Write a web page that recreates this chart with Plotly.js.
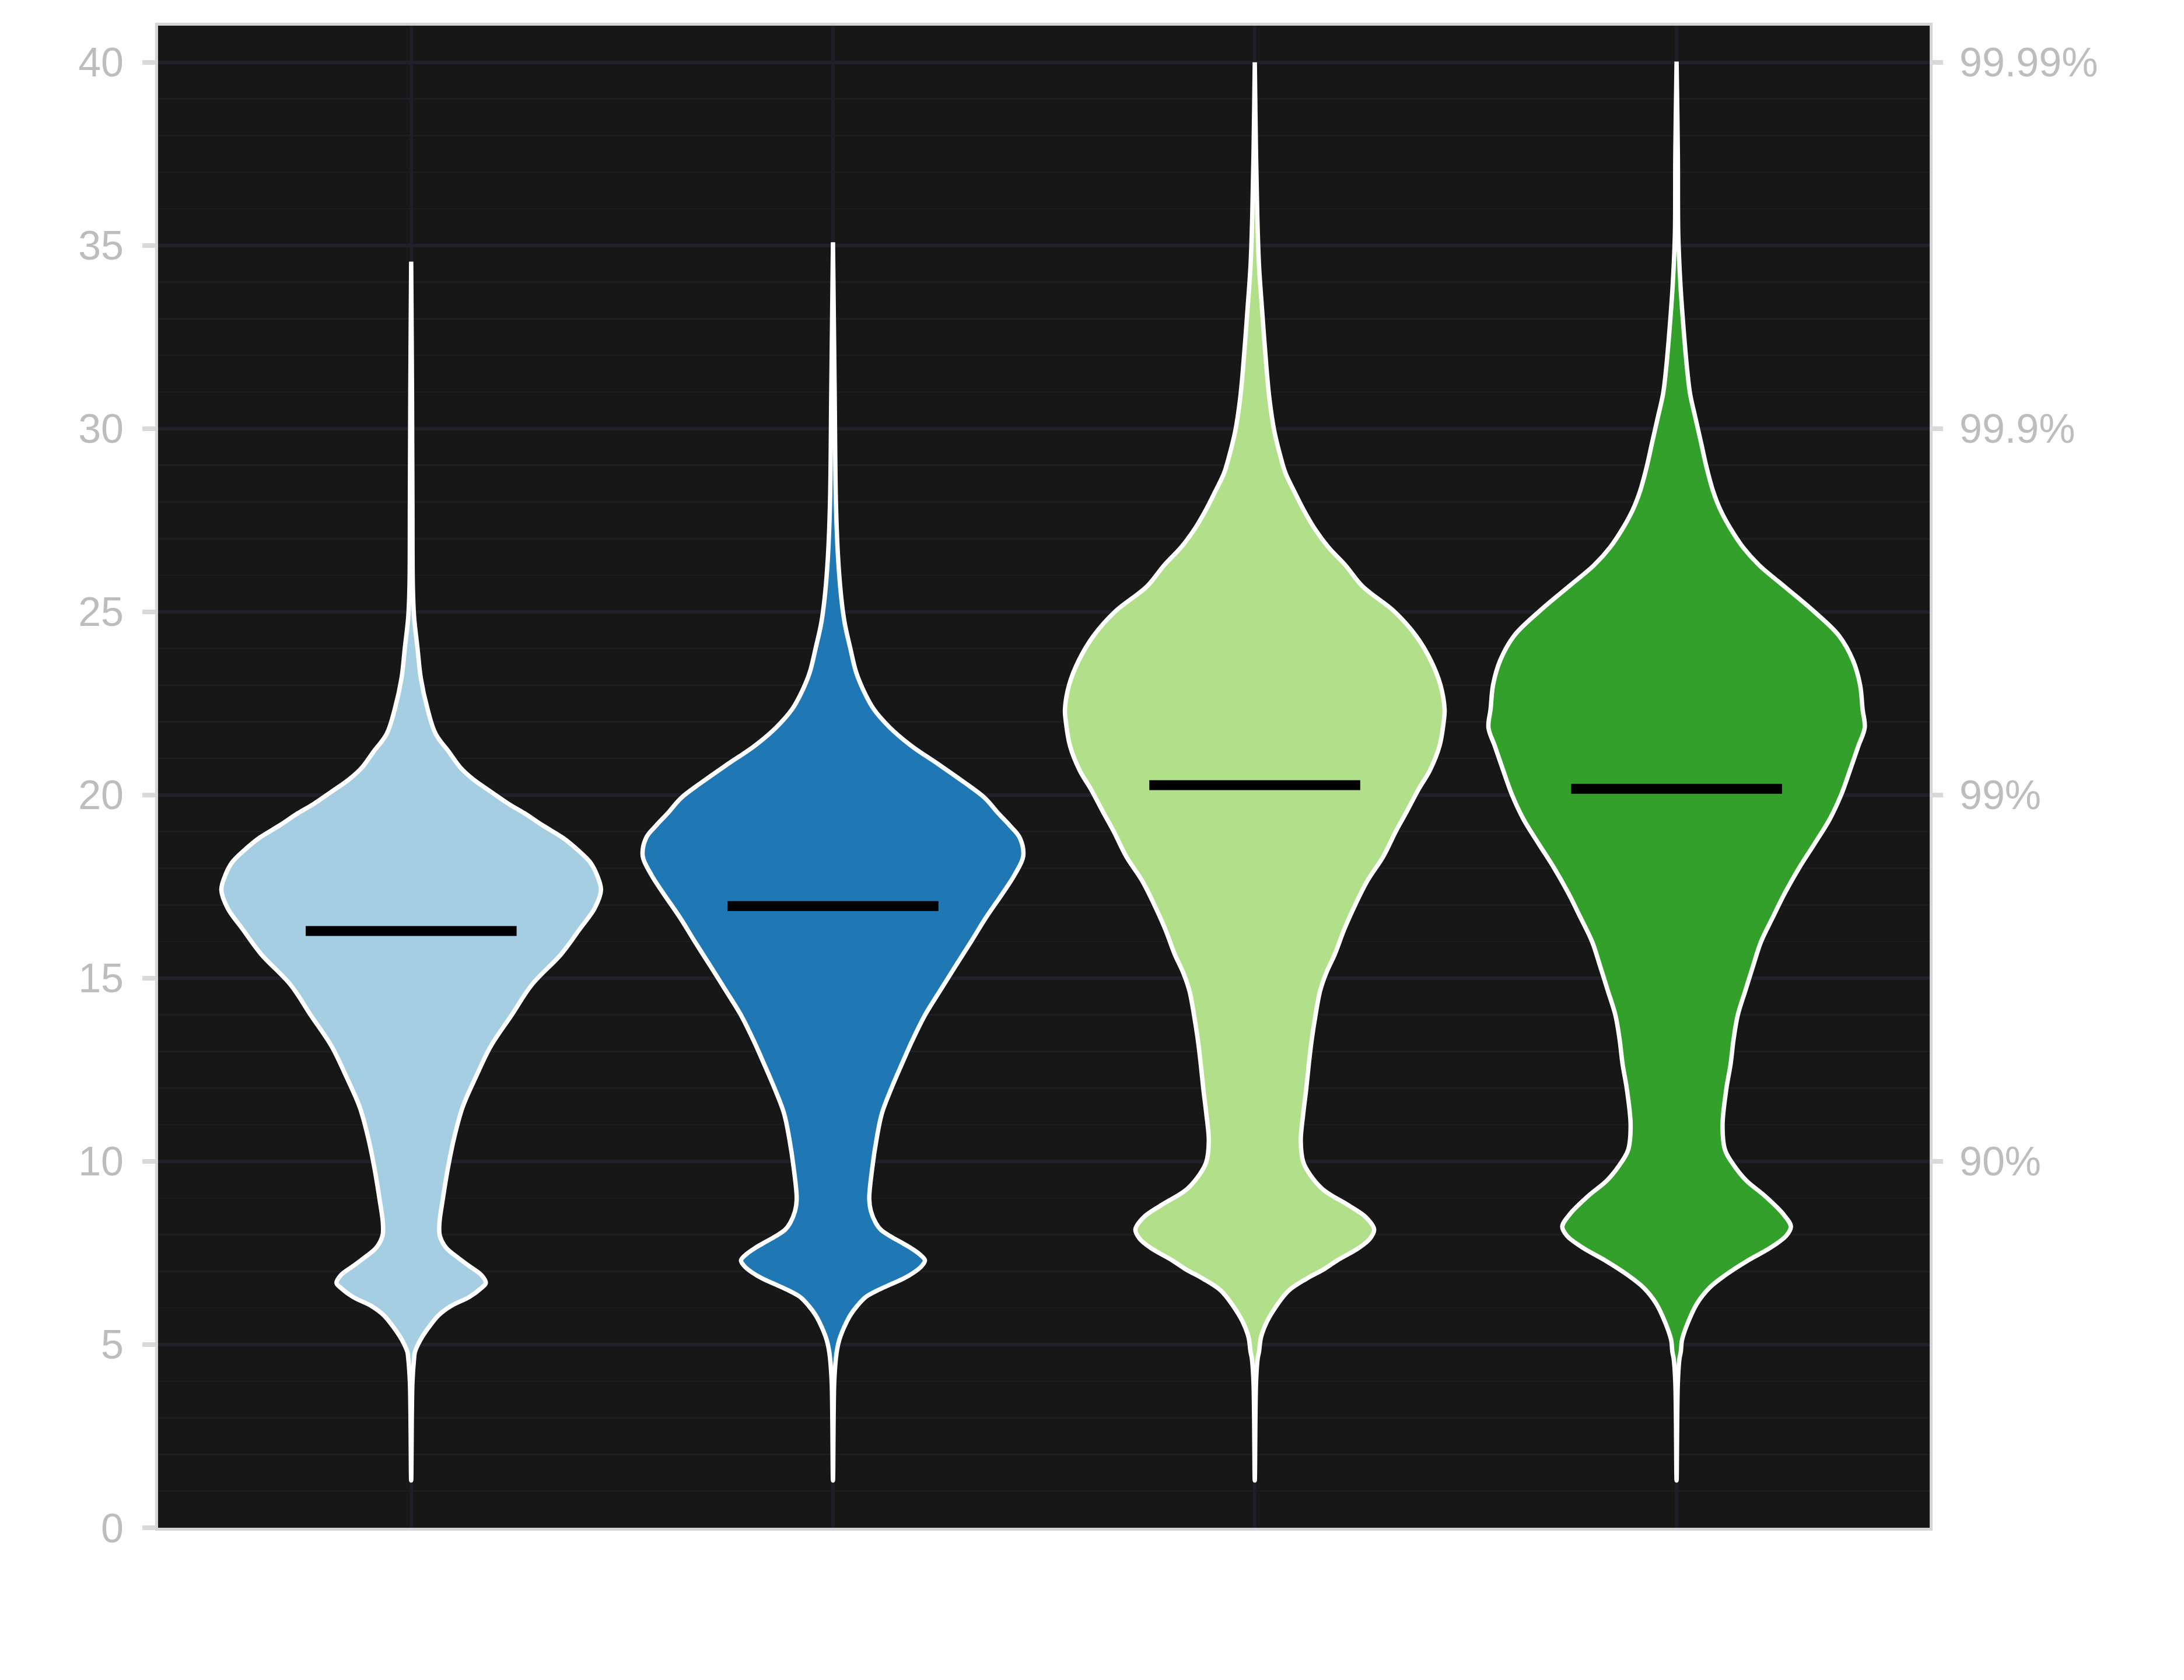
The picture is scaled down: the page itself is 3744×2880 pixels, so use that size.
<!DOCTYPE html>
<html>
<head>
<meta charset="utf-8">
<script src="https://cdn.plot.ly/plotly-3.0.1.min.js"></script>
<style>
  html, body { margin: 0; padding: 0; background: #ffffff; }
  #chart { width: 3744px; height: 2880px; }
</style>
</head>
<body>
<div id="chart"></div>
<script>
// Group positions on the x axis (no labels are shown)
const groupPos = [0, 1, 2, 3];
const fillColors = ['#a6cee3', '#1f78b4', '#b2df8a', '#33a02c'];

// Density outlines: value level and half width
const levels1 = [1.29, 3.96, 4.63, 4.80, 5.13, 5.46, 5.80, 6.05, 6.30, 6.55, 6.68, 6.89, 7.14, 7.39, 7.64, 7.97, 8.31, 8.97, 9.81, 10.65, 11.48, 12.32, 13.15, 13.99, 14.82, 15.66, 16.33, 16.91, 17.41, 17.83, 18.17, 18.50, 18.83, 19.17, 19.50, 19.75, 20.09, 20.42, 20.76, 21.17, 21.67, 22.34, 23.18, 24.01, 24.85, 25.69, 28.0, 31.0, 34.56];
const widths1 = [0, 0.003, 0.007, 0.009, 0.022, 0.041, 0.065, 0.094, 0.138, 0.167, 0.177, 0.167, 0.138, 0.109, 0.083, 0.068, 0.067, 0.075, 0.087, 0.102, 0.122, 0.154, 0.189, 0.238, 0.286, 0.356, 0.399, 0.435, 0.450, 0.440, 0.424, 0.395, 0.360, 0.312, 0.269, 0.232, 0.189, 0.148, 0.116, 0.090, 0.058, 0.039, 0.023, 0.015, 0.007, 0.004, 0.003, 0.002, 0];

const levels2 = [1.29, 3.96, 4.63, 4.88, 5.13, 5.46, 5.80, 6.05, 6.30, 6.47, 6.63, 6.80, 6.97, 7.14, 7.30, 7.47, 7.64, 7.80, 7.97, 8.14, 8.31, 8.64, 8.97, 9.81, 10.65, 11.31, 11.98, 12.65, 13.32, 13.99, 14.66, 15.32, 15.99, 16.66, 17.33, 17.83, 18.33, 18.83, 19.17, 19.50, 19.92, 20.34, 20.84, 21.34, 21.84, 22.34, 22.84, 23.35, 24.01, 24.68, 25.35, 26.5, 28.0, 31.0, 35.09];
const widths2 = [0, 0.003, 0.007, 0.010, 0.015, 0.026, 0.041, 0.057, 0.078, 0.104, 0.134, 0.167, 0.192, 0.210, 0.218, 0.205, 0.184, 0.160, 0.134, 0.113, 0.102, 0.090, 0.086, 0.093, 0.104, 0.116, 0.138, 0.163, 0.189, 0.218, 0.254, 0.290, 0.327, 0.363, 0.403, 0.431, 0.451, 0.443, 0.419, 0.392, 0.360, 0.312, 0.250, 0.186, 0.135, 0.097, 0.073, 0.055, 0.041, 0.028, 0.020, 0.012, 0.007, 0.004, 0];

const levels3 = [1.29, 3.96, 4.63, 4.80, 5.21, 5.63, 6.05, 6.47, 6.80, 7.05, 7.30, 7.64, 7.89, 8.14, 8.47, 8.81, 9.22, 9.64, 9.98, 10.56, 11.31, 11.98, 12.65, 13.32, 13.99, 14.66, 15.16, 15.66, 16.33, 17.00, 17.66, 18.33, 19.00, 19.50, 20.17, 20.67, 21.34, 22.01, 22.34, 23.01, 23.68, 24.35, 25.02, 25.69, 26.27, 26.77, 27.27, 27.78, 28.28, 28.78, 29.28, 29.95, 30.79, 31.62, 33.29, 34.46, 35.8, 37.47, 40.0];
const widths3 = [0, 0.003, 0.007, 0.010, 0.015, 0.029, 0.051, 0.080, 0.123, 0.163, 0.196, 0.247, 0.273, 0.283, 0.264, 0.221, 0.163, 0.131, 0.115, 0.109, 0.115, 0.122, 0.128, 0.135, 0.144, 0.155, 0.170, 0.190, 0.212, 0.238, 0.267, 0.305, 0.334, 0.358, 0.389, 0.415, 0.438, 0.448, 0.450, 0.440, 0.417, 0.382, 0.330, 0.256, 0.215, 0.174, 0.142, 0.116, 0.094, 0.073, 0.060, 0.046, 0.035, 0.028, 0.017, 0.010, 0.006, 0.003, 0];

const levels4 = [1.29, 3.96, 4.63, 4.80, 5.13, 5.63, 6.13, 6.55, 6.89, 7.30, 7.64, 7.97, 8.22, 8.56, 9.06, 9.48, 9.89, 10.31, 10.98, 11.98, 12.65, 13.32, 13.99, 14.66, 15.32, 15.99, 16.66, 17.33, 18.00, 18.67, 19.34, 20.00, 20.67, 21.34, 21.84, 22.34, 23.01, 23.68, 24.35, 25.02, 25.69, 26.27, 26.77, 27.27, 27.78, 28.28, 28.95, 29.62, 30.28, 30.95, 31.62, 32.96, 33.96, 35.30, 37.47, 40.02];
const widths4 = [0, 0.003, 0.007, 0.010, 0.013, 0.028, 0.049, 0.078, 0.115, 0.170, 0.222, 0.260, 0.271, 0.253, 0.209, 0.165, 0.136, 0.115, 0.109, 0.118, 0.128, 0.135, 0.145, 0.163, 0.181, 0.200, 0.228, 0.257, 0.290, 0.327, 0.363, 0.390, 0.411, 0.431, 0.446, 0.441, 0.435, 0.418, 0.385, 0.325, 0.256, 0.196, 0.157, 0.128, 0.104, 0.087, 0.071, 0.058, 0.045, 0.032, 0.025, 0.015, 0.009, 0.004, 0.003, 0];

// Mean of each group (black bars)
const means = [16.29, 16.97, 20.27, 20.17];
const meanHalfWidth = 0.25;

// Right axis labels
const rightTickVals = [10, 20, 30, 40];
const rightTickText = ['90%', '99%', '99.9%', '99.99%'];

const allLevels = [levels1, levels2, levels3, levels4];
const allWidths = [widths1, widths2, widths3, widths4];

// Build closed violin outline: up the left side, down the right side
function violinTrace(pos, ys, ws, color) {
  const left = ys.map((y, i) => pos - ws[i]);
  const right = ys.map((y, i) => pos + ws[i]).reverse();
  return {
    x: left.concat(right),
    y: ys.concat(ys.slice().reverse()),
    type: 'scatter',
    mode: 'lines',
    fill: 'toself',
    fillcolor: color,
    line: { color: '#ffffff', width: 7.5, shape: 'spline', smoothing: 1 },
    hoverinfo: 'skip',
    showlegend: false
  };
}

const traces = groupPos.map((p, i) => violinTrace(p, allLevels[i], allWidths[i], fillColors[i]));

// Mean bars on the overlaying right axis (same range), drawn on top
groupPos.forEach((p, i) => {
  traces.push({
    x: [p - meanHalfWidth, p + meanHalfWidth],
    y: [means[i], means[i]],
    yaxis: 'y2',
    type: 'scatter',
    mode: 'lines',
    line: { color: '#000000', width: 17 },
    hoverinfo: 'skip',
    showlegend: false
  });
});

const tickFont = { family: 'Liberation Sans, Arial, sans-serif', size: 70, color: '#bdbdbd' };

const layout = {
  width: 3744,
  height: 2880,
  margin: { l: 271, r: 436, t: 44, b: 261, pad: 0 },
  paper_bgcolor: '#ffffff',
  plot_bgcolor: '#171717',
  showlegend: false,
  xaxis: {
    range: [-0.6, 3.6],
    tickvals: groupPos,
    showticklabels: false,
    ticks: '',
    showgrid: true,
    gridcolor: '#1c1f27',
    gridwidth: 6,
    zeroline: false,
    showline: true,
    mirror: true,
    linecolor: '#d4d4d4',
    linewidth: 5
  },
  yaxis: {
    range: [0, 41],
    tick0: 0,
    dtick: 5,
    ticks: 'outside',
    ticklen: 22,
    tickwidth: 8,
    tickcolor: '#d9d9d9',
    tickfont: tickFont,
    ticklabelstandoff: 18,
    showgrid: true,
    gridcolor: '#1f2029',
    gridwidth: 6,
    minor: { dtick: 1, showgrid: true, gridcolor: '#1e1e22', gridwidth: 2.5 },
    zeroline: false,
    showline: true,
    mirror: true,
    linecolor: '#d4d4d4',
    linewidth: 5
  },
  yaxis2: {
    overlaying: 'y',
    side: 'right',
    range: [0, 41],
    tickmode: 'array',
    tickvals: rightTickVals,
    ticktext: rightTickText,
    ticks: 'outside',
    ticklen: 22,
    tickwidth: 8,
    tickcolor: '#d9d9d9',
    tickfont: tickFont,
    ticklabelstandoff: 14,
    showgrid: false,
    zeroline: false,
    showline: false
  }
};

Plotly.newPlot('chart', traces, layout, { staticPlot: true });
</script>
</body>
</html>
